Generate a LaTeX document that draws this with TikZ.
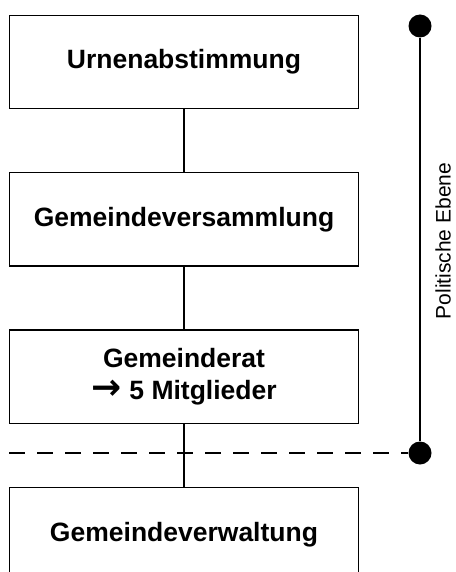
\documentclass[tikz,border=0pt]{standalone}
\usepackage{fontspec}
\setmainfont{Liberation Sans}
\newfontfamily\pfeil{DejaVu Sans}
\usetikzlibrary{positioning}

\begin{document}
\begin{tikzpicture}[
    x=1pt, y=-1pt,
    node distance=62.5pt,
    ebene/.style={rectangle, draw, line width=1.4pt, minimum width=349pt, minimum height=93.5pt, align=center, inner sep=0pt, font=\fontsize{26.5}{32}\selectfont\bfseries},
    punkt/.style={circle, fill=black, minimum size=23pt, inner sep=0pt},
    linie/.style={line width=1.5pt}
]

\clip (0,0) rectangle (455,572);

% Boxes
\node[ebene] (urne) at (184,62) {Urnenabstimmung};
\node[ebene] (versammlung) [below=of urne] {Gemeindeversammlung};
\node[ebene] (rat) [below=of versammlung] {Gemeinderat\\{\pfeil\bfseries\fontsize{36}{32}\selectfont →}\hspace{8pt}5 Mitglieder};
\node[ebene] (verwaltung) [below=of rat] {Gemeindeverwaltung};

% Politische Ebene
\node[punkt] (oben) at (420,26) {};
\node[punkt] (unten) at (420,453) {};
\node[rotate=90, inner sep=0pt, font=\fontsize{21}{25}\selectfont] (label) at (443,241) {Politische Ebene};
\coordinate (links) at (9,453);

% Lines
\draw[linie] (urne) -- (versammlung);
\draw[linie] (versammlung) -- (rat);
\draw[linie] (rat) -- (verwaltung);
\draw[linie] (oben) -- (unten);
\draw[linie, dash pattern=on 16pt off 12pt] (links) -- (unten);

\end{tikzpicture}
\end{document}
